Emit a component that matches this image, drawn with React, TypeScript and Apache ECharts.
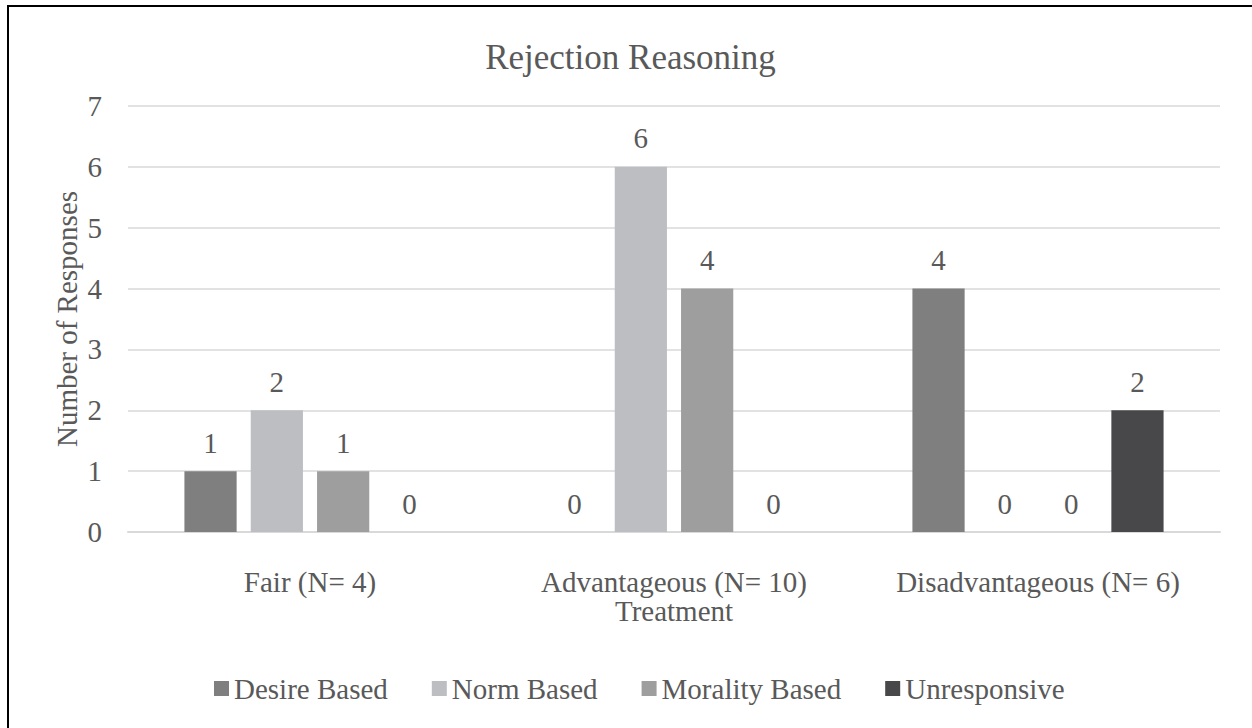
import React, { useEffect, useRef } from "react";
import * as echarts from "echarts";

const categories = ["Fair (N= 4)", "Advantageous (N= 10)", "Disadvantageous (N= 6)"];
const desireBased = [1, 0, 4];
const normBased = [2, 6, 0];
const moralityBased = [1, 4, 0];
const unresponsive = [0, 0, 2];
const seriesNames = ["Desire Based", "Norm Based", "Morality Based", "Unresponsive"];
const colors = ["#7f7f7f", "#bdbec2", "#9e9e9e", "#48484a"];

const FONT = "Liberation Serif";
const TXT = "#595959";

export default function App() {
  const ref = useRef<HTMLDivElement>(null);
  useEffect(() => {
    if (!ref.current) return;
    const chart = echarts.init(ref.current, undefined, { renderer: "svg" });
    const data = [desireBased, normBased, moralityBased, unresponsive];
    chart.setOption({
      animation: false,
      backgroundColor: "#ffffff",
      textStyle: { fontFamily: FONT, color: TXT },
      title: {
        text: "Rejection Reasoning",
        left: "center",
        top: 28,
        textStyle: { fontFamily: FONT, fontSize: 35, fontWeight: "normal", color: TXT },
      },
      legend: {
        bottom: 22,
        left: 200,
        itemWidth: 15,
        itemHeight: 15,
        itemGap: 44,
        icon: "rect",
        textStyle: { fontFamily: FONT, fontSize: 29, color: TXT },
        data: seriesNames,
      },
      grid: { left: 119, right: 32, top: 99, bottom: 198 },
      xAxis: {
        type: "category",
        data: categories,
        name: "Treatment",
        nameLocation: "middle",
        nameGap: 65,
        nameMoveOverlap: false,
        nameTextStyle: { fontFamily: FONT, fontSize: 29, lineHeight: 28, color: TXT },
        axisLine: { lineStyle: { color: "#d9d9d9", width: 2 } },
        axisTick: { show: false },
        axisLabel: {
          interval: 0,
          fontFamily: FONT,
          fontSize: 29,
          lineHeight: 28,
          color: TXT,
          margin: 36,
        },
      },
      yAxis: {
        type: "value",
        min: 0,
        max: 7,
        interval: 1,
        name: "Number of Responses",
        nameLocation: "middle",
        nameGap: 47,
        nameMoveOverlap: false,
        nameTextStyle: { fontFamily: FONT, fontSize: 29, color: TXT },
        axisLine: { show: false },
        axisTick: { show: false },
        axisLabel: { fontFamily: FONT, fontSize: 29, color: TXT, margin: 26 },
        splitLine: { lineStyle: { color: "#d9d9d9", width: 1.5 } },
      },
      series: seriesNames.map((name, i) => ({
        name,
        type: "bar",
        data: data[i],
        barGap: "27%",
        barCategoryGap: "31%",
        itemStyle: { color: colors[i] },
        label: {
          show: true,
          position: "top",
          distance: 14,
          fontFamily: FONT,
          fontSize: 29,
          color: TXT,
        },
      })),
    });
    return () => chart.dispose();
  }, []);
  return (
    <div
      style={{
        position: "absolute",
        left: 7,
        top: 5,
        width: 1260,
        height: 740,
        borderTop: "2px solid #000",
        borderLeft: "2px solid #000",
        background: "#fff",
      }}
    >
      <div ref={ref} style={{ width: 1243, height: 723 }} />
    </div>
  );
}
